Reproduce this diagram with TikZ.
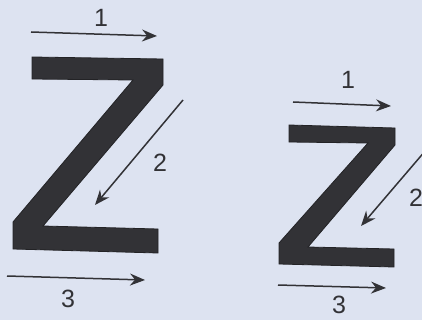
\documentclass[tikz,border=0pt]{standalone}
\usepackage{fontspec}
\setmainfont{Liberation Sans}
\usetikzlibrary{arrows.meta}
\definecolor{paper}{RGB}{221,227,241}
\definecolor{ink}{RGB}{50,50,54}
\begin{document}
\begin{tikzpicture}[
  x=0.5pt, y=-0.5pt,
  font=\fontsize{12.5}{14}\selectfont,
  zletter/.style={fill=ink, draw=ink!70!black, line width=0.4pt},
  arrow/.style={-{Stealth[length=7.5pt,width=6pt,inset=2.5pt]}, line width=0.75pt, draw=ink},
  num/.style={text=ink, inner sep=0pt},
]
\fill[paper] (0,0) rectangle (422,320);
\useasboundingbox (0,0) rectangle (422,320);
\clip (0,0) rectangle (422,320);

% left Z
\fill[zletter] (32,57) -- (163,59) -- (163,85) -- (43,226) -- (158,229)
  -- (158,253) -- (13,249) -- (13,222) -- (133,80) -- (32,79) -- cycle;

% right Z
\fill[zletter] (289,125) -- (395,128) -- (395,145) -- (308,247) -- (394,249)
  -- (394,267) -- (279,264) -- (279,243) -- (368,143) -- (289,142) -- cycle;

% arrows of the left Z
\coordinate (a1s) at (31,32);
\coordinate (a1e) at (157,36);
\coordinate (a2s) at (183,100);
\coordinate (a2e) at (95,205);
\coordinate (a3s) at (7,276);
\coordinate (a3e) at (145,280);
\draw[arrow] (a1s) -- (a1e);
\draw[arrow] (a2s) -- (a2e);
\draw[arrow] (a3s) -- (a3e);
\node[num] (n1) at (101,18) {1};
\node[num] (n2) at (160,163) {2};
\node[num] (n3) at (68,299) {3};

% arrows of the right Z
\coordinate (b1s) at (293,102);
\coordinate (b1e) at (391,106);
\coordinate (b2s) at (432,143);
\coordinate (b2e) at (361,226);
\coordinate (b3s) at (278,285);
\coordinate (b3e) at (386,288);
\draw[arrow] (b1s) -- (b1e);
\draw[arrow] (b2s) -- (b2e);
\draw[arrow] (b3s) -- (b3e);
\node[num] (m1) at (348,80) {1};
\node[num] (m2) at (416,198) {2};
\node[num] (m3) at (339,305) {3};
\end{tikzpicture}
\end{document}
